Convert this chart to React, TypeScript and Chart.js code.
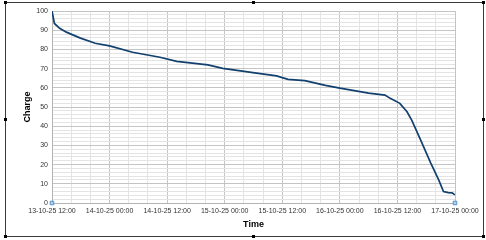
import React, { useEffect, useRef } from "react";
import { Chart, registerables } from "chart.js";

Chart.register(...registerables);

// hours since 13-10-25 12:00
const timeHours = [0, 0.5, 1.6, 3, 5.8, 9, 12, 16.8, 22.5, 26, 32.5, 35.6, 41.9, 46.8, 49.2, 52.7, 57, 60, 66, 69.4, 70.5, 72.5, 74, 75, 76.8, 78.9, 80.6, 81.6, 82.6, 83.4, 84];
const charge = [100, 93.5, 91, 89, 86, 83.2, 81.8, 78.5, 75.9, 73.8, 71.9, 70.1, 67.9, 66.2, 64.4, 63.7, 61.3, 59.8, 57.2, 56.2, 54.5, 51.9, 47.5, 43, 33, 21, 12, 6, 5.4, 5.3, 4.2];
const markerHours = [0, 84];
const markerValues = [0, 0];
const xTickLabels = ["13-10-25 12:00", "14-10-25 00:00", "14-10-25 12:00", "15-10-25 00:00", "15-10-25 12:00", "16-10-25 00:00", "16-10-25 12:00", "17-10-25 00:00"];
const yTicks = [0, 10, 20, 30, 40, 50, 60, 70, 80, 90, 100];

const framePlugin = {
  id: "frame",
  beforeDraw(chart: any) {
    const ctx = chart.ctx;
    ctx.save();
    ctx.fillStyle = "#ffffff";
    ctx.fillRect(0, 0, chart.width, chart.height);
    ctx.strokeStyle = "#3a3a3a";
    ctx.lineWidth = 1;
    ctx.strokeRect(5.5, 2.5, 478, 234);
    ctx.fillStyle = "#000";
    const hs = [[5, 2], [253, 2], [483, 2], [5, 236], [253, 236], [483, 236], [5, 119], [483, 119]];
    hs.forEach(([x, y]) => ctx.fillRect(x - 1, y - 1, 3, 3));
    ctx.restore();
  },
};

export default function App() {
  const ref = useRef<HTMLCanvasElement>(null);
  useEffect(() => {
    const chart = new Chart(ref.current!, {
      type: "scatter",
      data: {
        datasets: [
          {
            label: "Charge",
            data: timeHours.map((h, i) => ({ x: h, y: charge[i] })),
            showLine: true,
            borderColor: "#11406e",
            borderWidth: 1.7,
            pointRadius: 0,
            tension: 0,
          },
          {
            label: "markers",
            data: markerHours.map((h, i) => ({ x: h, y: markerValues[i] })),
            showLine: false,
            clip: false,
            pointStyle: "rect",
            pointRadius: 2.5,
            backgroundColor: "#a9d3f5",
            borderColor: "#5b8fc7",
            borderWidth: 1,
          },
        ],
      },
      options: {
        animation: false,
        responsive: false,
        devicePixelRatio: 1,
        layout: { padding: { left: 20, top: 11, right: 31, bottom: 8 } },
        plugins: { legend: { display: false }, tooltip: { enabled: false } },
        scales: {
          x: {
            type: "linear",
            min: 0,
            max: 84,
            afterFit: (s: any) => { s.height = 29; },
            ticks: {
              stepSize: 4,
              autoSkip: false,
              maxRotation: 0,
              padding: 4,
              font: { family: "Liberation Sans", size: 7 },
              color: "#333",
              callback: (v: any) => (v % 12 === 0 ? xTickLabels[v / 12] : ""),
            },
            grid: {
              drawTicks: false,
              color: (c: any) => (c.tick && c.tick.value % 12 === 0 ? "#c4c4c4" : "#e4e4e4"),
            },
            border: { color: "#b3b3b3" },
            title: {
              display: true,
              text: "Time",
              font: { family: "Liberation Sans", size: 9, weight: "bold" },
              color: "#000",
              padding: { top: 2, bottom: 2 },
            },
          },
          y: {
            min: 0,
            max: 100,
            afterFit: (s: any) => { s.width = 32; },
            afterBuildTicks: (s: any) => {
              const t: any[] = [];
              for (let v = 0; v <= 100; v += 2) t.push({ value: v });
              s.ticks = t;
            },
            ticks: {
              autoSkip: false,
              padding: 4,
              font: { family: "Liberation Sans", size: 7 },
              color: "#333",
              callback: (v: any) => (yTicks.includes(v) ? String(v) : ""),
            },
            grid: {
              drawTicks: false,
              color: (c: any) => (c.tick && c.tick.value % 10 === 0 ? "#c4c4c4" : "#e4e4e4"),
            },
            border: { color: "#b3b3b3" },
            title: {
              display: true,
              text: "Charge",
              font: { family: "Liberation Sans", size: 9, weight: "bold" },
              color: "#000",
              padding: { top: 2, bottom: 2 },
            },
          },
        },
      },
      plugins: [framePlugin],
    });
    return () => chart.destroy();
  }, []);
  return (
    <div style={{ position: "fixed", left: 0, top: 0, width: 486, height: 240 }}>
      <canvas ref={ref} width={486} height={240} style={{ width: 486, height: 240 }} />
    </div>
  );
}
